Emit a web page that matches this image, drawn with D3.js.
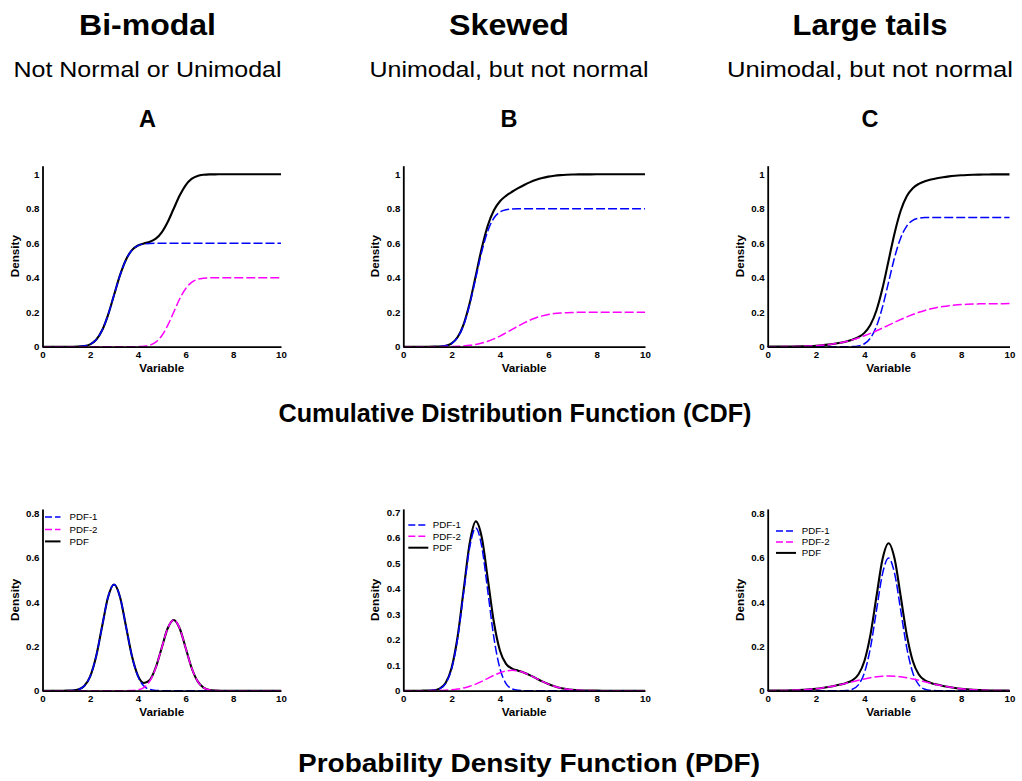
<!DOCTYPE html>
<html>
<head>
<meta charset="utf-8">
<script src="https://cdn.jsdelivr.net/npm/d3@7"></script>
<style>
  html, body { margin: 0; padding: 0; background: #fff; }
  svg { display: block; }
  text { font-family: "Liberation Sans", Arial, Helvetica, sans-serif; }
</style>
</head>
<body>
<svg id="chart" width="1022" height="781"></svg>
<script>
// ---------------- DATA ----------------
const titles = ["Bi-modal", "Skewed", "Large tails"];
const subtitles = ["Not Normal or Unimodal", "Unimodal, but not normal", "Unimodal, but not normal"];
const letters = ["A", "B", "C"];
const rowTitles = ["Cumulative Distribution Function (CDF)", "Probability Density Function (PDF)"];
const seriesNames = ["PDF-1", "PDF-2", "PDF"];
const xLabel = "Variable";
const yLabel = "Density";
const xTicks = [0, 2, 4, 6, 8, 10];
const cdfTicks = [0, 0.2, 0.4, 0.6, 0.8, 1];
const pdfTicksAC = [0, 0.2, 0.4, 0.6, 0.8];
const pdfTicksB = [0, 0.1, 0.2, 0.3, 0.4, 0.5, 0.6, 0.7];

const variable = [0,0.25,0.5,0.75,1,1.25,1.5,1.75,2,2.25,2.5,2.75,3,3.25,3.5,3.75,4,4.25,4.5,4.75,5,5.25,5.5,5.75,6,6.25,6.5,6.75,7,7.25,7.5,7.75,8,8.25,8.5,8.75,9,9.25,9.5,9.75,10];

// Panel A (bi-modal)
const cdfA1 = [0,0,0,0,0,0.0001,0.0008,0.0037,0.0137,0.0401,0.0952,0.1851,0.3,0.4149,0.5048,0.5599,0.5864,0.5963,0.5992,0.5999,0.6,0.6,0.6,0.6,0.6,0.6,0.6,0.6,0.6,0.6,0.6,0.6,0.6,0.6,0.6,0.6,0.6,0.6,0.6,0.6,0.6];
const cdfA2 = [0,0,0,0,0,0,0,0,0,0,0,0,0,0,0,0.0001,0.0005,0.0025,0.0091,0.0267,0.0635,0.1234,0.2,0.2766,0.3365,0.3733,0.3909,0.3975,0.3995,0.3999,0.4,0.4,0.4,0.4,0.4,0.4,0.4,0.4,0.4,0.4,0.4];
const cdfA  = [0,0,0,0,0,0.0001,0.0008,0.0037,0.0137,0.0401,0.0952,0.1851,0.3,0.4149,0.5048,0.56,0.5869,0.5988,0.6083,0.6266,0.6635,0.7234,0.8,0.8766,0.9365,0.9733,0.9909,0.9975,0.9995,0.9999,1,1,1,1,1,1,1,1,1,1,1];
const pdfA1 = [0,0,0,0,0.0002,0.0011,0.0053,0.021,0.0648,0.1554,0.2904,0.4225,0.4787,0.4225,0.2904,0.1554,0.0648,0.021,0.0053,0.0011,0.0002,0,0,0,0,0,0,0,0,0,0,0,0,0,0,0,0,0,0,0,0];
const pdfA2 = [0,0,0,0,0,0,0,0,0,0,0,0,0,0,0.0001,0.0007,0.0035,0.014,0.0432,0.1036,0.1936,0.2817,0.3192,0.2817,0.1936,0.1036,0.0432,0.014,0.0035,0.0007,0.0001,0,0,0,0,0,0,0,0,0,0];
const pdfA  = [0,0,0,0,0.0002,0.0011,0.0053,0.021,0.0648,0.1554,0.2904,0.4225,0.4787,0.4225,0.2905,0.1561,0.0683,0.035,0.0485,0.1047,0.1938,0.2817,0.3192,0.2817,0.1936,0.1036,0.0432,0.014,0.0035,0.0007,0.0001,0,0,0,0,0,0,0,0,0,0];

// Panel B (skewed)
const cdfB1 = [0,0,0,0,0,0.0002,0.0011,0.005,0.0182,0.0535,0.1269,0.2468,0.4,0.5532,0.6731,0.7466,0.7818,0.795,0.7989,0.7998,0.8,0.8,0.8,0.8,0.8,0.8,0.8,0.8,0.8,0.8,0.8,0.8,0.8,0.8,0.8,0.8,0.8,0.8,0.8,0.8,0.8];
const cdfB2 = [0,0,0,0,0.0001,0.0001,0.0003,0.0006,0.0012,0.0024,0.0046,0.008,0.0134,0.0211,0.0317,0.0453,0.0617,0.0803,0.1,0.1197,0.1383,0.1547,0.1683,0.1789,0.1866,0.192,0.1955,0.1976,0.1988,0.1994,0.1997,0.1999,0.2,0.2,0.2,0.2,0.2,0.2,0.2,0.2,0.2];
const cdfB  = [0,0,0,0,0.0001,0.0003,0.0014,0.0056,0.0194,0.0559,0.1315,0.2548,0.4134,0.5743,0.7048,0.7919,0.8435,0.8753,0.8989,0.9195,0.9383,0.9547,0.9683,0.9789,0.9866,0.992,0.9955,0.9976,0.9988,0.9994,0.9997,0.9999,1,1,1,1,1,1,1,1,1];
const pdfB1 = [0,0,0,0,0.0002,0.0014,0.0071,0.0281,0.0864,0.2072,0.3872,0.5633,0.6383,0.5633,0.3872,0.2072,0.0864,0.0281,0.0071,0.0014,0.0002,0,0,0,0,0,0,0,0,0,0,0,0,0,0,0,0,0,0,0,0];
const pdfB2 = [0,0,0,0.0001,0.0002,0.0004,0.0009,0.0018,0.0035,0.0064,0.0108,0.0173,0.0259,0.0365,0.0484,0.0602,0.0704,0.0773,0.0798,0.0773,0.0704,0.0602,0.0484,0.0365,0.0259,0.0173,0.0108,0.0064,0.0035,0.0018,0.0009,0.0004,0.0002,0.0001,0,0,0,0,0,0,0];
const pdfB  = [0,0,0,0.0001,0.0004,0.0018,0.008,0.0299,0.0899,0.2136,0.398,0.5806,0.6642,0.5998,0.4356,0.2674,0.1568,0.1054,0.0869,0.0787,0.0706,0.0602,0.0484,0.0365,0.0259,0.0173,0.0108,0.0064,0.0035,0.0018,0.0009,0.0004,0.0002,0.0001,0,0,0,0,0,0,0];

// Panel C (large tails)
const cdfC1 = [0,0,0,0,0,0,0,0,0,0,0,0,0,0.0002,0.001,0.0047,0.0171,0.0501,0.119,0.2314,0.375,0.5186,0.631,0.6999,0.7329,0.7453,0.749,0.7498,0.75,0.75,0.75,0.75,0.75,0.75,0.75,0.75,0.75,0.75,0.75,0.75,0.75];
const cdfC2 = [0.0001,0.0002,0.0003,0.0006,0.001,0.0016,0.0025,0.0038,0.0057,0.0084,0.012,0.0167,0.0228,0.0304,0.0397,0.0506,0.0631,0.0771,0.0924,0.1085,0.125,0.1416,0.1576,0.1729,0.1869,0.1994,0.2103,0.2196,0.2272,0.2333,0.2381,0.2417,0.2443,0.2462,0.2476,0.2485,0.249,0.2494,0.2497,0.2498,0.2499];
const cdfC  = [0.0001,0.0002,0.0003,0.0006,0.001,0.0016,0.0025,0.0038,0.0057,0.0084,0.012,0.0167,0.0228,0.0306,0.0407,0.0553,0.0802,0.1272,0.2114,0.3399,0.5,0.6602,0.7886,0.8728,0.9198,0.9447,0.9593,0.9694,0.9772,0.9833,0.9881,0.9917,0.9943,0.9962,0.9976,0.9985,0.999,0.9994,0.9997,0.9998,0.9999];
const pdfC1 = [0,0,0,0,0,0,0,0,0,0,0,0,0.0002,0.0013,0.0067,0.0263,0.081,0.1943,0.363,0.5281,0.5984,0.5281,0.363,0.1943,0.081,0.0263,0.0067,0.0013,0.0002,0,0,0,0,0,0,0,0,0,0,0,0];
const pdfC2 = [0.0003,0.0004,0.0007,0.0012,0.0019,0.0029,0.0044,0.0064,0.009,0.0124,0.0166,0.0216,0.0273,0.0337,0.0403,0.047,0.0532,0.0587,0.0629,0.0656,0.0665,0.0656,0.0629,0.0587,0.0532,0.047,0.0403,0.0337,0.0273,0.0216,0.0166,0.0124,0.009,0.0064,0.0044,0.0029,0.0019,0.0012,0.0007,0.0004,0.0003];
const pdfC  = [0.0003,0.0004,0.0007,0.0012,0.0019,0.0029,0.0044,0.0064,0.009,0.0124,0.0166,0.0216,0.0275,0.035,0.047,0.0733,0.1342,0.253,0.4259,0.5937,0.6649,0.5937,0.4259,0.253,0.1342,0.0733,0.047,0.035,0.0275,0.0216,0.0166,0.0124,0.009,0.0064,0.0044,0.0029,0.0019,0.0012,0.0007,0.0004,0.0003];

// ---------------- LAYOUT / STYLE ----------------
const colors = ["#0000ff", "#ff00ff", "#000000"];
const svg = d3.select("#chart");

const cols = [
  { x0: 42.5, x1: 281, cx: 147.5, tw: 137, sw: 268,
    cdf: [cdfA1, cdfA2, cdfA], pdf: [pdfA1, pdfA2, pdfA], pdfMax: 0.82, pdfTicks: pdfTicksAC,
    leg: { lx0: 2.5, lx1: 18, tx: 27, ty: [8, 20.5, 32.5] } },
  { x0: 403.3, x1: 645, cx: 509, tw: 120, sw: 279,
    cdf: [cdfB1, cdfB2, cdfB], pdf: [pdfB1, pdfB2, pdfB], pdfMax: 0.713, pdfTicks: pdfTicksB,
    leg: { lx0: 5, lx1: 25, tx: 29.5, ty: [16, 27.3, 38.8] } },
  { x0: 767.7, x1: 1009.5, cx: 870, tw: 155, sw: 286,
    cdf: [cdfC1, cdfC2, cdfC], pdf: [pdfC1, pdfC2, pdfC], pdfMax: 0.82, pdfTicks: pdfTicksAC,
    leg: { lx0: 8.3, lx1: 28.3, tx: 34, ty: [22, 33, 44] } }
];

const rows = [
  { yBottom: 346.7, yTop: 165.7 },
  { yBottom: 690.7, yTop: 508.9 }
];

// headers
cols.forEach((c, i) => {
  svg.append("text").attr("x", c.cx).attr("y", 34.8).attr("text-anchor", "middle")
    .attr("font-size", 29).attr("font-weight", "bold")
    .attr("textLength", c.tw).attr("lengthAdjust", "spacingAndGlyphs").text(titles[i]);
  svg.append("text").attr("x", c.cx).attr("y", 76.8).attr("text-anchor", "middle")
    .attr("font-size", 21.5)
    .attr("textLength", c.sw).attr("lengthAdjust", "spacingAndGlyphs").text(subtitles[i]);
  svg.append("text").attr("x", c.cx).attr("y", 127).attr("text-anchor", "middle")
    .attr("font-size", 23.5).attr("font-weight", "bold").text(letters[i]);
});

svg.append("text").attr("x", 515).attr("y", 422.3).attr("text-anchor", "middle")
  .attr("font-size", 25.5).attr("font-weight", "bold")
  .attr("textLength", 473).attr("lengthAdjust", "spacingAndGlyphs").text(rowTitles[0]);
svg.append("text").attr("x", 529).attr("y", 772).attr("text-anchor", "middle")
  .attr("font-size", 26).attr("font-weight", "bold")
  .attr("textLength", 462).attr("lengthAdjust", "spacingAndGlyphs").text(rowTitles[1]);

function drawPanel(c, row, series, yMax, yTicks, legend) {
  const x = d3.scaleLinear().domain([0, 10]).range([c.x0, c.x1]);
  const y = d3.scaleLinear().domain([0, yMax]).range([row.yBottom, row.yTop]);
  const g = svg.append("g");

  // lines: total first (under), then components
  const line = d3.line().x((d, i) => x(variable[i])).y(d => y(d)).curve(d3.curveMonotoneX);
  g.append("path").attr("d", line(series[2])).attr("fill", "none")
    .attr("stroke", colors[2]).attr("stroke-width", 2.1);
  g.append("path").attr("d", line(series[0])).attr("fill", "none")
    .attr("stroke", colors[0]).attr("stroke-width", 1.5).attr("stroke-dasharray", "9,3");
  g.append("path").attr("d", line(series[1])).attr("fill", "none")
    .attr("stroke", colors[1]).attr("stroke-width", 1.5).attr("stroke-dasharray", "9,3");

  // axes
  const ax = g.append("g").attr("transform", `translate(0,${row.yBottom})`)
    .call(d3.axisBottom(x).tickValues(xTicks).tickSize(0).tickSizeOuter(0).tickPadding(4).tickFormat(d => String(d)));
  const ay = g.append("g").attr("transform", `translate(${c.x0},0)`)
    .call(d3.axisLeft(y).tickValues(yTicks).tickSize(0).tickSizeOuter(0).tickPadding(3).tickFormat(d => String(d)));
  [ax, ay].forEach(a => {
    a.select(".domain").attr("stroke", "#000").attr("stroke-width", 1.8);
    a.selectAll("text").attr("font-size", 9.7).attr("font-weight", "bold").attr("fill", "#000")
      .attr("font-family", '"Liberation Sans", Arial, sans-serif');
  });

  g.append("text").attr("x", (c.x0 + c.x1) / 2).attr("y", row.yBottom + 24.8)
    .attr("text-anchor", "middle").attr("font-size", 11.7).attr("font-weight", "bold").text(xLabel);
  g.append("text")
    .attr("transform", `translate(${c.x0 - 24},${(row.yBottom + row.yTop) / 2}) rotate(-90)`)
    .attr("text-anchor", "middle").attr("font-size", 11.7).attr("font-weight", "bold").text(yLabel);

  if (legend) {
    const L = c.leg;
    seriesNames.forEach((name, i) => {
      const yy = row.yTop + L.ty[i];
      g.append("line").attr("x1", c.x0 + L.lx0).attr("x2", c.x0 + L.lx1)
        .attr("y1", yy).attr("y2", yy).attr("stroke", colors[i])
        .attr("stroke-width", i === 2 ? 2 : 1.5)
        .attr("stroke-dasharray", i === 2 ? null : "7,3");
      g.append("text").attr("x", c.x0 + L.tx).attr("y", yy).attr("dy", "0.35em")
        .attr("font-size", 9.7).text(name);
    });
  }
}

cols.forEach(c => {
  drawPanel(c, rows[0], c.cdf, 1.05, cdfTicks, false);
  drawPanel(c, rows[1], c.pdf, c.pdfMax, c.pdfTicks, true);
});
</script>
</body>
</html>
